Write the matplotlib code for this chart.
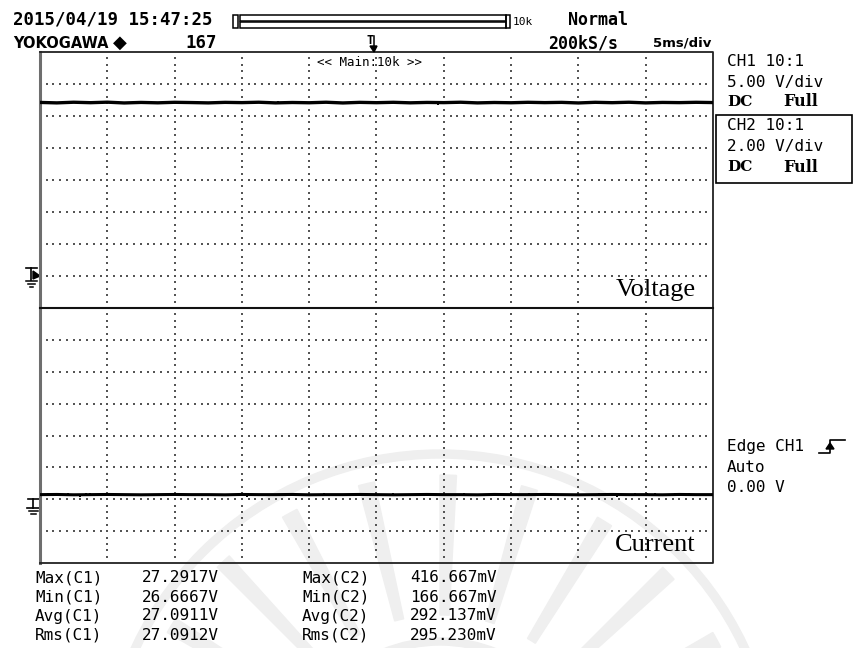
import matplotlib.pyplot as plt
import numpy as np
from matplotlib.patches import Rectangle, Polygon, Wedge

W, H = 854, 648
MONO = "DejaVu Sans Mono"

# screen settings
time_per_div = 5.0        # ms/div
ch1_volts_per_div = 5.0   # V/div
ch2_volts_per_div = 2.0   # V/div
ch1_ground_div = 1        # divisions above the bottom of its window
ch2_ground_div = 2

# CH1 voltage trace (V), sampled every quarter division
ch1_volts = [27.12, 27.05, 27.15, 27.08, 27.16, 27.04, 27.12, 27.06, 27.14, 27.10,
             27.05, 27.13, 27.09, 27.15, 27.05, 27.11, 27.07, 27.15, 27.04, 27.13,
             27.08, 27.14, 27.06, 27.12, 27.09, 27.15, 27.05, 27.11, 27.07, 27.14,
             27.09, 27.13, 27.04, 27.14, 27.08, 27.15, 27.05, 27.12, 27.09, 27.14,
             27.10]
# CH1 extremes (time in ms, value in V)
ch1_glitch_t = [-7.3, 4.6]
ch1_glitch_v = [27.2917, 26.6667]

# CH2 current-sense trace (V), same sampling
ch2_volts = [0.29, 0.30, 0.28, 0.29, 0.30, 0.29, 0.28, 0.29, 0.30, 0.29,
             0.29, 0.28, 0.30, 0.29, 0.29, 0.30, 0.28, 0.29, 0.29, 0.30,
             0.29, 0.28, 0.29, 0.30, 0.29, 0.29, 0.28, 0.30, 0.29, 0.29,
             0.30, 0.29, 0.28, 0.29, 0.30, 0.29, 0.29, 0.28, 0.30, 0.29,
             0.29]
# short glitches riding on CH2 (time in ms, peak in V)
ch2_glitch_t = [-24.4, -23.7, -22.9, -22.0, -21.6, -21.3, -14.8, -9.6, -3.9, 1.2,
                6.5, 11.3, 16.5, 17.9, 19.2, 20.1, 20.7, 22.2, 23.2]
ch2_glitch_v = [0.40, 0.41, 0.39, 0.17, 0.41, 0.40, 0.40, 0.1667, 0.41, 0.39,
                0.40, 0.41, 0.40, 0.17, 0.41, 0.40, 0.4167, 0.41, 0.40]

# automatic measurements
meas_names_c1 = ["Max(C1)", "Min(C1)", "Avg(C1)", "Rms(C1)"]
meas_vals_c1 = ["27.2917V", "26.6667V", "27.0911V", "27.0912V"]
meas_names_c2 = ["Max(C2)", "Min(C2)", "Avg(C2)", "Rms(C2)"]
meas_vals_c2 = ["416.667mV", "166.667mV", "292.137mV", "295.230mV"]

fig = plt.figure(figsize=(W / 100, H / 100), dpi=100)
fig.patch.set_facecolor("white")

# full-figure layer in pixel units for the screen furniture
bg = fig.add_axes([0, 0, 1, 1], zorder=0)
bg.set_xlim(0, W)
bg.set_ylim(H, 0)
bg.axis("off")

# faint emblem watermark behind the lower part of the screen
wm = "#efefef"
cx, cy = 440, 790
for r0, r1 in [(332, 340), (145, 152)]:
    bg.add_patch(Wedge((cx, cy), r1, 0, 360, width=r1 - r0, color=wm, zorder=0))
for ang in np.arange(195, 346, 15):
    bg.add_patch(Wedge((cx, cy), 315, ang, ang + 3, width=140, color=wm, zorder=0))

x0, x1 = 40, 713
y_top, y_mid, y_bot = 52, 308, 563


def px_rect(xa, ya, xb, yb):
    return [xa / W, 1 - yb / H, (xb - xa) / W, (yb - ya) / H]


ax_v = fig.add_axes(px_rect(x0, y_top, x1, y_mid), zorder=2)
ax_i = fig.add_axes(px_rect(x0, y_mid, x1, y_bot), zorder=2)

t_lo, t_hi = -5 * time_per_div, 5 * time_per_div
t = np.linspace(t_lo, t_hi, len(ch1_volts))

for ax, vdiv, gnd in [(ax_v, ch1_volts_per_div, ch1_ground_div),
                      (ax_i, ch2_volts_per_div, ch2_ground_div)]:
    v_lo = -gnd * vdiv
    v_hi = v_lo + 8 * vdiv
    ax.set_xlim(t_lo, t_hi)
    ax.set_ylim(v_lo, v_hi)
    ax.set_facecolor("none")
    ax.set_xticks([])
    ax.set_yticks([])
    for s in ax.spines.values():
        s.set_visible(False)
    # dotted graticule
    hx = np.arange(t_lo, t_hi + 1e-9, time_per_div / 10)[1:-1]
    for k in range(1, 8):
        ax.scatter(hx, np.full(hx.size, v_lo + k * vdiv), s=1.5, c="#555555",
                   marker="s", linewidths=0, zorder=1)
    vy = np.arange(v_lo, v_hi + 1e-9, vdiv / 5)[1:-1]
    for k in range(1, 10):
        ax.scatter(np.full(vy.size, t_lo + k * time_per_div), vy, s=1.5,
                   c="#555555", marker="s", linewidths=0, zorder=1)

ax_v.plot(t, ch1_volts, color="black", lw=2.4, zorder=3)
ax_v.vlines(ch1_glitch_t, np.interp(ch1_glitch_t, t, ch1_volts), ch1_glitch_v,
            color="black", lw=1.4, zorder=3)
ax_i.plot(t, ch2_volts, color="black", lw=2.2, zorder=3)
ax_i.vlines(ch2_glitch_t, np.interp(ch2_glitch_t, t, ch2_volts), ch2_glitch_v,
            color="black", lw=1.4, zorder=3)

# window frames
bg.plot([x0, x0], [y_top, y_bot], color="#6e6e6e", lw=2.2, zorder=4)
bg.plot([x0, x1, x1, x0], [y_top, y_top, y_bot, y_bot], color="#222222",
        lw=1.3, zorder=4)
bg.plot([x0, x1], [y_mid, y_mid], color="#111111", lw=1.5, zorder=4)

# channel labels inside the windows
bg.text(696, 296, "Voltage", ha="right", va="baseline",
        family="Liberation Serif", fontsize=19, zorder=5)
bg.text(696, 551, "Current", ha="right", va="baseline",
        family="Liberation Serif", fontsize=19, zorder=5)
bg.text(317, 62, "<< Main:10k >>", ha="left", va="center", family=MONO,
        fontsize=9, zorder=5)

# header
bg.text(13, 20, "2015/04/19 15:47:25", family=MONO, fontsize=12.5,
        fontweight="bold", va="center")
bg.text(13, 43, "YOKOGAWA", family="DejaVu Sans", fontsize=10.5,
        fontweight="bold", va="center")
bg.text(113, 43, "\u25c6", family="DejaVu Sans", fontsize=13, va="center")
bg.text(185, 43, "167", family=MONO, fontsize=12.5, fontweight="bold",
        va="center")
bg.text(568, 20, "Normal", family=MONO, fontsize=12, fontweight="bold",
        va="center")
bg.text(548, 43, "200kS/s", family=MONO, fontsize=12, fontweight="bold",
        va="center")
bg.text(653, 43, "5ms/div", family="DejaVu Sans Condensed", fontsize=9.5,
        fontweight="bold", va="center")

# record length bar
for rx, ry, rw, rh in [(233, 15, 5, 13), (240, 15, 266, 6), (240, 22, 266, 6),
                       (506, 15, 4, 13)]:
    bg.add_patch(Rectangle((rx, ry), rw, rh, fill=False, lw=1.1,
                           ec="black", zorder=4))
bg.text(513, 22, "10k", family=MONO, fontsize=8, va="center")

# trigger position marker
bg.text(370, 40, "T", family=MONO, fontsize=8.5, fontweight="bold",
        ha="center", va="center")
bg.plot([374, 374], [36, 47], color="black", lw=1.1)
bg.add_patch(Polygon([(370, 46), (377, 46), (374, 52)], color="black", zorder=4))

# ground markers
bg.plot([26, 37], [268, 268], color="black", lw=1.2)
bg.plot([31.5, 31.5], [268, 280], color="black", lw=1.2)
bg.add_patch(Polygon([(33, 271), (33, 279), (40, 276)], color="black"))
for gy, gx0, gx1 in [(281, 26, 37), (284, 28, 35), (287, 30, 33)]:
    bg.plot([gx0, gx1], [gy, gy], color="black", lw=1.1)
bg.plot([28, 39], [499, 499], color="black", lw=1.2)
bg.plot([33.5, 33.5], [499, 508], color="black", lw=1.2)
bg.plot([27, 40], [508, 508], color="black", lw=1.2)
for gy, gx0, gx1 in [(511, 29, 38), (514, 31, 36)]:
    bg.plot([gx0, gx1], [gy, gy], color="black", lw=1.1)

# channel setup panel
rx = 727
for y, txt in [(62, "CH1 10:1"), (82, "5.00 V/div")]:
    bg.text(rx, y, txt, family=MONO, fontsize=11.5, va="center")
for y, txt in [(126, "CH2 10:1"), (147, "2.00 V/div")]:
    bg.text(rx, y, txt, family=MONO, fontsize=11.5, va="center")
for y in [102, 167]:
    bg.text(rx, y, "DC", family="DejaVu Serif", fontsize=11,
            fontweight="bold", va="center")
    bg.text(783, y, "Full", family="DejaVu Serif", fontsize=11.5,
            fontweight="bold", va="center")
bg.add_patch(Rectangle((716, 115), 136, 68, fill=False, lw=1.2, ec="black"))

# trigger settings
bg.text(rx, 447, "Edge CH1", family=MONO, fontsize=11.5, va="center")
bg.plot([819, 830, 830, 845], [453, 453, 440, 440], color="black", lw=1.2)
bg.add_patch(Polygon([(826, 449), (834, 449), (830, 443)], color="black"))
bg.text(rx, 467, "Auto", family=MONO, fontsize=11.5, va="center")
bg.text(rx, 487, "0.00 V", family=MONO, fontsize=11.5, va="center")

# measurement readout
row_y = [578, 597, 616, 635]
for i, y in enumerate(row_y):
    bg.text(35, y, meas_names_c1[i], family=MONO, fontsize=11.5, va="center")
    bg.text(142, y, meas_vals_c1[i], family=MONO, fontsize=11.5, va="center")
    bg.text(302, y, meas_names_c2[i], family=MONO, fontsize=11.5, va="center")
    bg.text(410, y, meas_vals_c2[i], family=MONO, fontsize=11.5, va="center")

fig.savefig("out.png", dpi=100, facecolor="white")
